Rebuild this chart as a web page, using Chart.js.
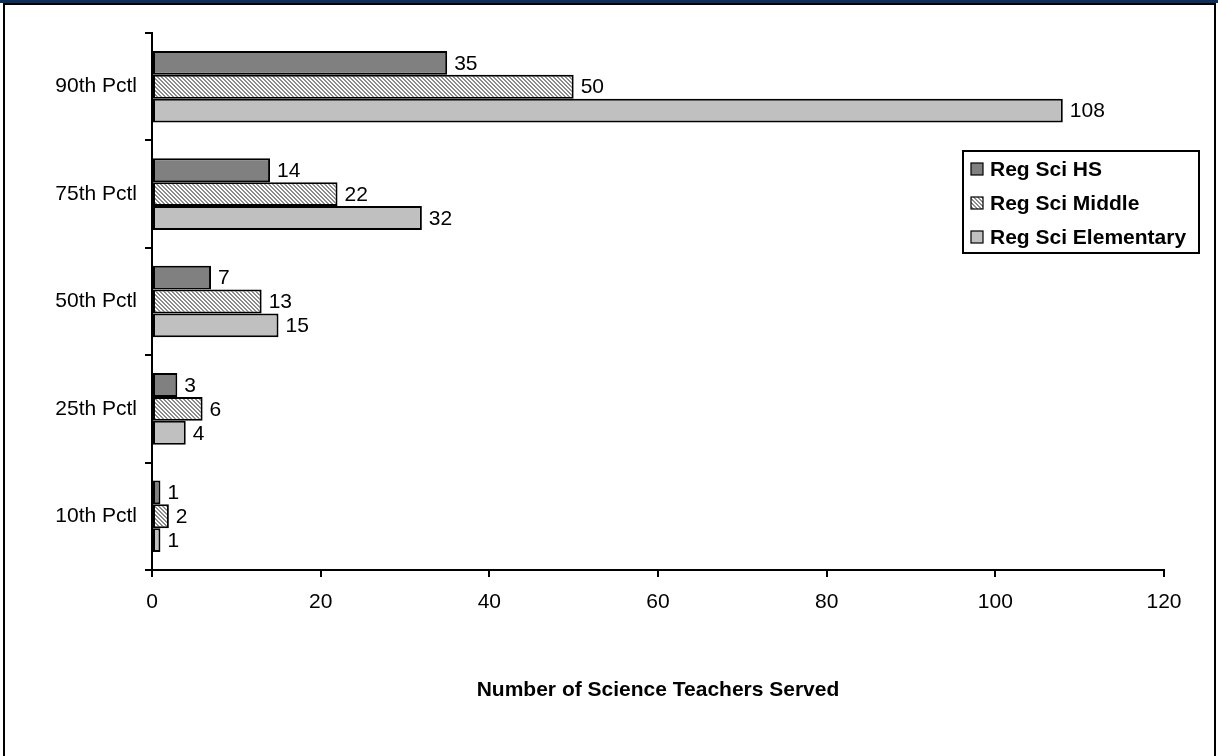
<!DOCTYPE html>
<html lang="en">
<head>
    <meta charset="UTF-8">
    <title>Number of Science Teachers Served</title>
    <script src="https://cdn.jsdelivr.net/npm/chart.js"></script>
    <style>
        html, body { margin: 0; padding: 0; background: #fff; }
        .page { position: relative; width: 1218px; height: 756px; overflow: hidden; }
        #chart { position: absolute; left: 0; top: 0; }
        .band { position: absolute; left: 0; top: 0; width: 1218px; height: 3px; background: #0b2f5e; pointer-events: none; }
        .frame { position: absolute; left: 3px; top: 3px; width: 1209px; height: 770px; border: 2px solid #000; pointer-events: none; }
    </style>
</head>
<body>
    <div class="page">
        <canvas id="chart" width="1218" height="756"></canvas>
        <div class="band"></div>
        <div class="frame"></div>
    </div>

    <script>
        const categories = ['90th Pctl', '75th Pctl', '50th Pctl', '25th Pctl', '10th Pctl'];
        const seriesNames = ['Reg Sci HS', 'Reg Sci Middle', 'Reg Sci Elementary'];
        const hsValues = [35, 14, 7, 3, 1];
        const middleValues = [50, 22, 13, 6, 2];
        const elementaryValues = [108, 32, 15, 4, 1];
        const xTicks = [0, 20, 40, 60, 80, 100, 120];

        const FONT = '"Liberation Sans", Arial, sans-serif';

        // diagonal hatch used by the middle school series
        function makeHatch() {
            const c = document.createElement('canvas');
            c.width = 4;
            c.height = 4;
            const g = c.getContext('2d');
            g.fillStyle = '#ffffff';
            g.fillRect(0, 0, 4, 4);
            g.fillStyle = '#8c8c8c';
            for (let y = 0; y < 4; y++) {
                for (let x = 0; x < 4; x++) {
                    const d = ((x - y) % 4 + 4) % 4;
                    if (d === 0 || d === 1) g.fillRect(x, y, 1, 1);
                }
            }
            return g.createPattern(c, 'repeat');
        }

        const ctx = document.getElementById('chart').getContext('2d');
        const hatch = makeHatch();
        const fills = ['#808080', hatch, '#c0c0c0'];

        const valueLabels = {
            id: 'valueLabels',
            afterDatasetsDraw(chart) {
                const c = chart.ctx;
                c.save();
                c.font = '21px ' + FONT;
                c.fillStyle = '#000';
                c.textAlign = 'left';
                c.textBaseline = 'middle';
                chart.data.datasets.forEach((ds, i) => {
                    chart.getDatasetMeta(i).data.forEach((bar, j) => {
                        c.fillText(String(ds.data[j]), bar.x + 7, bar.y + 1);
                    });
                });
                c.restore();
            }
        };

        const boxLegend = {
            id: 'boxLegend',
            afterDraw(chart) {
                const c = chart.ctx;
                const area = chart.chartArea;
                const left = area.right - 201;
                const top = area.top + 118;
                const w = 236, h = 102;
                c.save();
                c.fillStyle = '#fff';
                c.fillRect(left, top, w, h);
                c.strokeStyle = '#000';
                c.lineWidth = 2;
                c.strokeRect(left, top, w, h);
                c.font = 'bold 21px ' + FONT;
                c.textBaseline = 'middle';
                chart.data.datasets.forEach((ds, i) => {
                    const cy = top + 18 + i * 34;
                    c.fillStyle = ds.backgroundColor;
                    c.fillRect(left + 8, cy - 6, 12, 12);
                    c.lineWidth = 1.2;
                    c.strokeRect(left + 8, cy - 6, 12, 12);
                    c.fillStyle = '#000';
                    c.fillText(ds.label, left + 27, cy + 1);
                });
                c.restore();
            }
        };

        new Chart(ctx, {
            type: 'bar',
            data: {
                labels: categories,
                datasets: [hsValues, middleValues, elementaryValues].map((vals, i) => ({
                    label: seriesNames[i],
                    data: vals,
                    backgroundColor: fills[i],
                    borderColor: '#000',
                    borderWidth: 2,
                    borderSkipped: false,
                    barPercentage: 1,
                    categoryPercentage: 0.667
                }))
            },
            options: {
                indexAxis: 'y',
                responsive: false,
                animation: false,
                layout: { padding: { top: 33, right: 54, bottom: 53, left: 0 } },
                plugins: {
                    legend: { display: false },
                    tooltip: { enabled: false }
                },
                scales: {
                    x: {
                        min: 0,
                        max: 120,
                        afterBuildTicks(scale) {
                            scale.ticks = xTicks.map(v => ({ value: v }));
                        },
                        afterFit(scale) { scale.height = 133; },
                        grid: {
                            drawOnChartArea: false,
                            color: '#000',
                            lineWidth: 2,
                            tickLength: 7
                        },
                        border: { color: '#000', width: 2 },
                        ticks: {
                            color: '#000',
                            padding: 13,
                            maxRotation: 0,
                            font: { family: FONT, size: 21 }
                        },
                        title: {
                            display: true,
                            text: 'Number of Science Teachers Served',
                            color: '#000',
                            padding: { top: 0, bottom: 0 },
                            font: { family: FONT, size: 21, weight: 'bold' }
                        }
                    },
                    y: {
                        afterFit(scale) { scale.width = 152; },
                        grid: {
                            offset: true,
                            drawOnChartArea: false,
                            color: '#000',
                            lineWidth: 2,
                            tickLength: 7
                        },
                        border: { color: '#000', width: 2 },
                        ticks: {
                            color: '#000',
                            padding: 8,
                            font: { family: FONT, size: 21 }
                        }
                    }
                }
            },
            plugins: [valueLabels, boxLegend]
        });
    </script>
</body>
</html>
